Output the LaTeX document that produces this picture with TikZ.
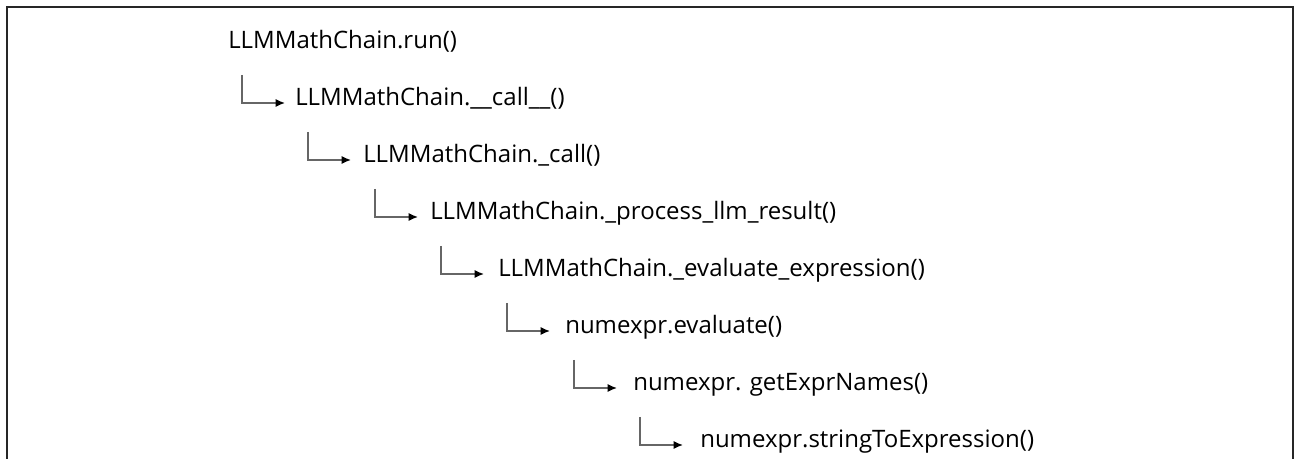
\documentclass[tikz,border=0pt]{standalone}
\usepackage{fontspec}
\setmainfont{Open Sans}
\usetikzlibrary{arrows.meta}
\begin{document}
\begin{tikzpicture}[x=0.75pt,y=-0.75pt,
  lbl/.style={inner sep=0pt,anchor=base west,font=\fontsize{18}{20}\selectfont},
  elbow/.style={draw=black!60,line width=1.1pt,-{Latex[length=7pt,width=6pt,black]}},
  frame/.style={draw=black!85,line width=1.6pt}]
\useasboundingbox (0,0) rectangle (1296,459);
\draw[frame] (7,459) -- (7,7) -- (1293,7) -- (1293,459);
\node[lbl] (t0) at (228,49) {LLMMathChain.run()};
\node[lbl] (t1) at (295,106) {LLMMathChain.\_\_call\_\_()};
\node[lbl] (t2) at (363,163) {LLMMathChain.\_call()};
\node[lbl] (t3) at (430,220) {LLMMathChain.\_process\_llm\_result()};
\node[lbl] (t4) at (498,277) {LLMMathChain.\_evaluate\_expression()};
\node[lbl] (t5) at (565,334) {numexpr.evaluate()};
\node[lbl] (t6) at (633,391) {numexpr. getExprNames()};
\node[lbl] (t7) at (700,448) {numexpr.stringToExpression()};
\foreach \i/\ex in {1/242,2/308,3/375,4/441,5/507,6/574,7/640}{
  \pgfmathtruncatemacro{\p}{\i-1}
  \coordinate (s\i) at (\ex, 49+57*\p+26);
  \coordinate (e\i) at (\ex+43, 49+57*\i-3);
  \draw[elbow] (s\i) |- (e\i);
}
\end{tikzpicture}
\end{document}
